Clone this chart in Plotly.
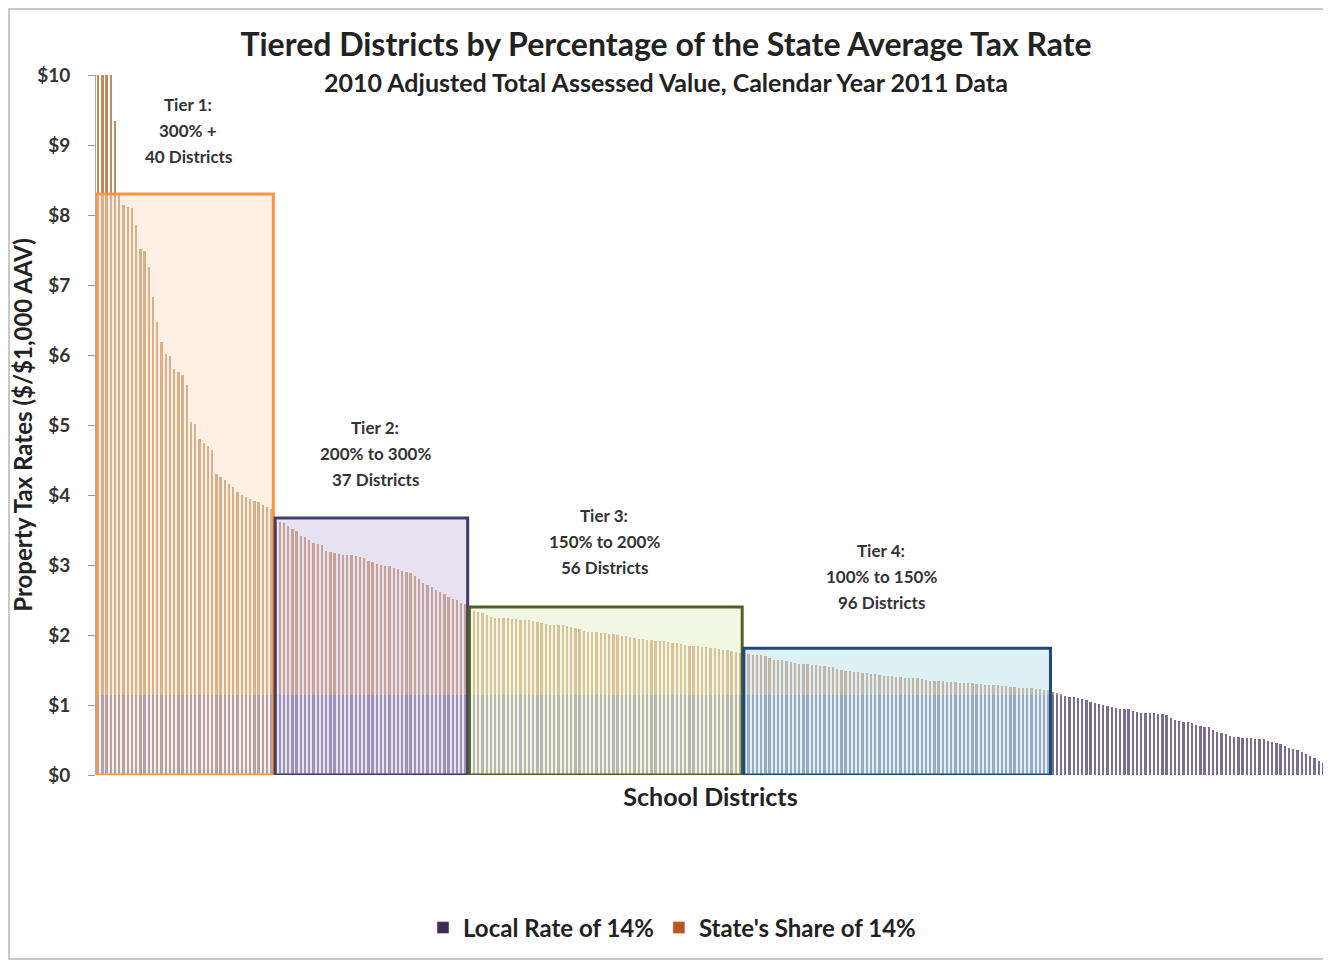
import plotly.graph_objects as go

# ---- data ----
tier1_rates = [10.0, 10.0, 10.0, 10.0, 9.35, 8.3, 8.15, 8.12, 8.1, 7.86, 7.52, 7.48, 7.26, 6.83,
               6.47, 6.19, 6.02, 5.98, 5.8, 5.76, 5.72, 5.57, 5.05, 5.01, 4.8, 4.74, 4.7, 4.64,
               4.3, 4.26, 4.22, 4.16, 4.12, 4.04, 4.0, 3.97, 3.94, 3.92, 3.9, 3.86, 3.83, 3.8]
tier2_rates = [3.62, 3.61, 3.6, 3.56, 3.52, 3.48, 3.42, 3.4, 3.36, 3.32, 3.3, 3.28, 3.2, 3.18,
               3.17, 3.16, 3.15, 3.15, 3.14, 3.13, 3.12, 3.1, 3.06, 3.05, 3.02, 3.0, 2.99, 2.98,
               2.96, 2.94, 2.92, 2.9, 2.88, 2.85, 2.8, 2.74, 2.72, 2.68, 2.65, 2.62, 2.58, 2.55,
               2.52, 2.5, 2.46, 2.44]
tier3_rates = [2.37, 2.35, 2.33, 2.31,
               2.28, 2.26, 2.25, 2.25, 2.24, 2.24, 2.23, 2.23, 2.22, 2.22, 2.21, 2.2, 2.19,
               2.17, 2.16, 2.15, 2.15, 2.14, 2.14, 2.13, 2.12, 2.1, 2.08,
               2.06, 2.05, 2.04, 2.04, 2.03, 2.03, 2.02, 2.01, 2.0, 1.99, 1.98, 1.97, 1.96,
               1.95, 1.94, 1.93, 1.93, 1.92, 1.92, 1.91, 1.9, 1.89, 1.88, 1.87,
               1.86, 1.85, 1.85, 1.84, 1.83, 1.83, 1.82, 1.81, 1.8, 1.79, 1.78, 1.77, 1.76, 1.75]
tier4_rates = [1.75, 1.73, 1.72, 1.71, 1.71, 1.7,
               1.67, 1.65, 1.64, 1.64, 1.63, 1.62,
               1.6, 1.59, 1.58, 1.58, 1.57, 1.57, 1.56, 1.56, 1.55, 1.54, 1.52,
               1.5, 1.49, 1.48, 1.47, 1.47, 1.46, 1.46, 1.45, 1.44, 1.43,
               1.42, 1.41, 1.41, 1.4, 1.4, 1.39, 1.39, 1.38, 1.38, 1.37, 1.36, 1.35,
               1.35, 1.34, 1.34, 1.33, 1.33, 1.33, 1.32, 1.32, 1.31, 1.31, 1.3, 1.3, 1.29, 1.29,
               1.28, 1.28, 1.27, 1.27, 1.26, 1.26, 1.25, 1.25, 1.24, 1.24, 1.23, 1.23, 1.22, 1.21]
rest_rates = [1.19, 1.17, 1.15,
              1.13, 1.12, 1.11, 1.1, 1.09, 1.07,
              1.04, 1.03, 1.02, 1.0, 0.99, 0.97,
              0.96, 0.95, 0.95, 0.94, 0.92,
              0.9, 0.89, 0.89, 0.88, 0.88, 0.87, 0.87, 0.86, 0.82,
              0.78, 0.77, 0.76, 0.76, 0.75, 0.72,
              0.7, 0.69, 0.68, 0.65,
              0.62, 0.6, 0.59, 0.56,
              0.54, 0.54, 0.53, 0.53, 0.53, 0.52, 0.52, 0.51, 0.49,
              0.47, 0.46, 0.44, 0.41,
              0.38, 0.37, 0.36, 0.33,
              0.3, 0.27, 0.24, 0.2, 0.17]

local_rate_cap = 1.14
tier_tops = [8.3, 3.67, 2.4, 1.81]
tier_names = ["Tier 1:", "Tier 2:", "Tier 3:", "Tier 4:"]
tier_ranges = ["300% +", "200% to 300%", "150% to 200%", "100% to 150%"]
tier_counts = ["40 Districts", "37 Districts", "56 Districts", "96 Districts"]
tier_label_x = [21.3, 65.6, 119.8, 185.4]
tier_label_y = [9.21, 4.6, 3.33, 2.83]
tick_vals = list(range(0, 11))
tick_text = ["$" + str(v) for v in tick_vals]

# ---- derived ----
tiers = [tier1_rates, tier2_rates, tier3_rates, tier4_rates]
totals = tier1_rates + tier2_rates + tier3_rates + tier4_rates + rest_rates
idx = list(range(len(totals)))
local = [min(t, local_rate_cap) for t in totals]
state = [max(t - local_rate_cap, 0) for t in totals]

fig = go.Figure()
fig.add_trace(go.Bar(x=idx, y=local, marker=dict(color="#7a6d8e", line=dict(width=0)),
                     showlegend=False, hoverinfo="skip"))
fig.add_trace(go.Bar(x=idx, y=state, marker=dict(color="#c4895a", line=dict(width=0)),
                     showlegend=False, hoverinfo="skip"))
# legend entries
fig.add_trace(go.Bar(x=[None], y=[None], name="<b>Local Rate of 14%</b>", marker_color="#3f2c5c"))
fig.add_trace(go.Bar(x=[None], y=[None], name="<b>State's Share of 14%</b>", marker_color="#b4561d"))

box_line = ["#f79646", "#403d6e", "#4f6228", "#1f497d"]
box_fill = ["rgba(253,222,196,0.45)", "rgba(200,190,225,0.45)",
            "rgba(232,240,205,0.55)", "rgba(190,228,240,0.5)"]
start = 0
for i, t in enumerate(tiers):
    n = len(t)
    x0 = start - 0.5 + (0.4 if i > 0 else 0)
    x1 = start + n - 0.5
    fig.add_shape(type="rect", xref="x", yref="y", x0=x0, x1=x1, y0=0, y1=tier_tops[i],
                  line=dict(color=box_line[i], width=3), fillcolor=box_fill[i], layer="above")
    for line_text, shift in zip([tier_names[i], tier_ranges[i], tier_counts[i]], [26, 0, -26]):
        fig.add_annotation(x=tier_label_x[i], y=tier_label_y[i], xref="x", yref="y",
                           yshift=shift, text="<b>" + line_text + "</b>", showarrow=False,
                           font=dict(family="Lato", size=17, color="#333333"), align="center")
    start += n

# page offset of 8px (browser body margin) is compensated in width/height/margins
W, H = 1323, 952
ML, MR, MT, MB = 88, 6, 67, 185
PW, PH = W - ML - MR, H - MT - MB

# outer frame
fig.add_shape(type="rect", xref="paper", yref="paper",
              x0=-(ML - 1) / PW, x1=1 + (MR - 3) / PW, y0=-(MB - 1) / PH, y1=1 + (MT - 1) / PH,
              line=dict(color="#c8c8c8", width=2), fillcolor="rgba(0,0,0,0)", layer="below")

fig.update_layout(
    width=W, height=H,
    margin=dict(l=ML, r=MR, t=MT, b=MB),
    paper_bgcolor="white", plot_bgcolor="white",
    barmode="stack", bargap=0.45,
    title=dict(text="<b>Tiered Districts by Percentage of the State Average Tax Rate</b>",
               x=(666 - 8) / W, xanchor="center", y=1 - 37 / H, yanchor="middle",
               font=dict(family="Lato", size=32, color="#222222")),
    xaxis=dict(range=[-0.5, len(totals) - 0.5], showticklabels=False, ticks="",
               showgrid=False, zeroline=False, showline=False,
               title=dict(text="<b>School Districts</b>", standoff=13,
                          font=dict(family="Lato", size=25, color="#222222"))),
    yaxis=dict(range=[0, 10], tickvals=tick_vals, ticktext=["<b>" + s + "</b>" for s in tick_text],
               ticks="outside", ticklen=7, tickcolor="#999999", ticklabelstandoff=14,
               showgrid=False, zeroline=False, showline=True, linecolor="#aaaaaa",
               tickfont=dict(family="Lato", size=19, color="#333333"),
               title=dict(text="<b>Property Tax Rates ($/$1,000 AAV)</b>", standoff=3,
                          font=dict(family="Lato", size=24, color="#222222"))),
    legend=dict(orientation="h", x=(672 - 96) / PW, xanchor="center", y=-(928 - 775) / PH,
                yanchor="middle", font=dict(family="Lato", size=24, color="#222222"),
                itemwidth=30, traceorder="normal"),
)
fig.add_annotation(text="<b>2010 Adjusted Total Assessed Value, Calendar Year 2011 Data</b>",
                   xref="paper", yref="paper", x=(666 - 96) / PW, y=1 - 7 / PH,
                   xanchor="center", yanchor="middle",
                   showarrow=False, font=dict(family="Lato", size=25, color="#222222"))

fig.write_html("out.html")
